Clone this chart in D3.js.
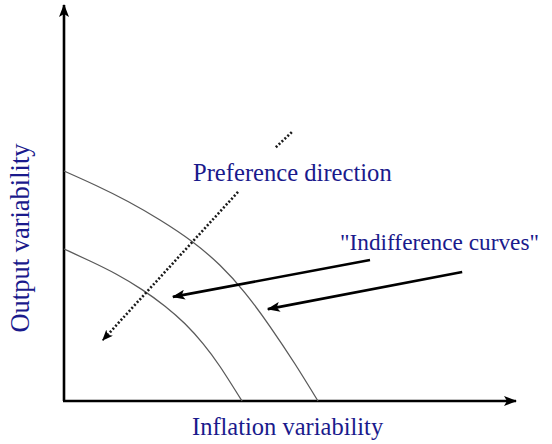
<!DOCTYPE html>
<html>
<head>
<meta charset="utf-8">
<script src="https://cdn.jsdelivr.net/npm/d3@7"></script>
<style>
  html, body { margin: 0; padding: 0; background: #fff; }
  svg { display: block; }
</style>
</head>
<body>
<svg id="chart" width="552" height="444"></svg>
<script>
// ---- data (conceptual units, 0..100 on each axis) ----
const outerCurveX = [0, 7.08, 14.16, 21.24, 28.32, 34.51, 40.04, 45.58, 51.11, 56.19];
const outerCurveY = [58.08, 54.42, 50.38, 45.71, 40.28, 34.27, 27.32, 18.81, 9.34, 0];
const innerCurveX = [0, 5.75, 11.5, 17.26, 22.35, 26.77, 30.75, 34.51, 39.38];
const innerCurveY = [38.38, 35.35, 32.07, 28.13, 23.94, 19.49, 14.49, 8.71, 0];

// preference direction (dotted arrow), drawn in two pieces around its label
const prefUpperX = [50.4, 46.7];
const prefUpperY = [67.9, 63.9];
const prefLowerX = [38.5, 8.6];
const prefLowerY = [52.8, 15.4];

// pointer arrows to the indifference curves
const pointer1X = [67.7, 24.1];
const pointer1Y = [35.6, 26.3];
const pointer2X = [88.1, 45.1];
const pointer2Y = [32.6, 23.2];

const xAxisLabel = "Inflation variability";
const yAxisLabel = "Output variability";
const prefLabel = "Preference direction";
const curvesLabel = "\"Indifference curves\"";

// ---- layout ----
const svg = d3.select("#chart");
const x = d3.scaleLinear().domain([0, 100]).range([64, 516]);
const y = d3.scaleLinear().domain([0, 100]).range([401, 5]);
const textColor = "#1a1a8c";

const defs = svg.append("defs");
function marker(id, path, w, h, refX, refY) {
  defs.append("marker")
    .attr("id", id)
    .attr("viewBox", `0 0 ${w} ${h}`)
    .attr("refX", refX).attr("refY", refY)
    .attr("markerWidth", w).attr("markerHeight", h)
    .attr("markerUnits", "userSpaceOnUse")
    .attr("orient", "auto")
    .append("path").attr("d", path).attr("fill", "#000");
}
marker("axisHead", "M0,0 L13,5 L0,10 L3,5 Z", 13, 10, 12, 5);
marker("ptrHead", "M0,0 L13,5 L0,10 L3,5 Z", 13, 10, 12, 5);
marker("dotHead", "M0,0 L11,4.5 L0,9 L3,4.5 Z", 11, 9, 10, 4.5);

// axes
const axes = svg.append("g");
axes.append("line")
  .attr("x1", x(0)).attr("y1", y(0))
  .attr("x2", x(0)).attr("y2", y(100))
  .attr("stroke", "#000").attr("stroke-width", 2.6)
  .attr("marker-end", "url(#axisHead)");
axes.append("line")
  .attr("x1", x(0) - 1).attr("y1", y(0))
  .attr("x2", x(100)).attr("y2", y(0))
  .attr("stroke", "#000").attr("stroke-width", 2.6)
  .attr("marker-end", "url(#axisHead)");

// indifference curves
const line = d3.line()
  .x(d => x(d[0])).y(d => y(d[1]))
  .curve(d3.curveNatural);
const curves = [
  d3.zip(outerCurveX, outerCurveY),
  d3.zip(innerCurveX, innerCurveY)
];
svg.append("g").selectAll("path.curve")
  .data(curves).join("path")
  .attr("class", "curve")
  .attr("d", line)
  .attr("fill", "none")
  .attr("stroke", "#5a5a5a")
  .attr("stroke-width", 1.3);

// preference direction dotted arrow
const straight = d3.line().x(d => x(d[0])).y(d => y(d[1]));
svg.append("path")
  .attr("d", straight(d3.zip(prefUpperX, prefUpperY)))
  .attr("fill", "none").attr("stroke", "#1a1a1a")
  .attr("stroke-width", 2.6).attr("stroke-dasharray", "2,2");
svg.append("path")
  .attr("d", straight(d3.zip(prefLowerX, prefLowerY)))
  .attr("fill", "none").attr("stroke", "#1a1a1a")
  .attr("stroke-width", 2.6).attr("stroke-dasharray", "2,2")
  .attr("marker-end", "url(#dotHead)");

// pointer arrows
[[pointer1X, pointer1Y], [pointer2X, pointer2Y]].forEach(([px, py]) => {
  svg.append("path")
    .attr("d", straight(d3.zip(px, py)))
    .attr("fill", "none").attr("stroke", "#000")
    .attr("stroke-width", 2.6)
    .attr("marker-end", "url(#ptrHead)");
});

// text
const font = "'Liberation Serif', 'Times New Roman', serif";
svg.append("text")
  .attr("x", 193).attr("y", 181)
  .attr("font-family", font).attr("font-size", 24.6)
  .attr("fill", textColor).text(prefLabel);
svg.append("text")
  .attr("x", 340).attr("y", 250)
  .attr("font-family", font).attr("font-size", 23.3)
  .attr("fill", textColor).text(curvesLabel);
svg.append("text")
  .attr("x", 192).attr("y", 435)
  .attr("font-family", font).attr("font-size", 24.5)
  .attr("fill", textColor).text(xAxisLabel);
svg.append("text")
  .attr("transform", "translate(29,238) rotate(-90)")
  .attr("text-anchor", "middle")
  .attr("font-family", font).attr("font-size", 26.5)
  .attr("fill", textColor).text(yAxisLabel);
</script>
</body>
</html>
